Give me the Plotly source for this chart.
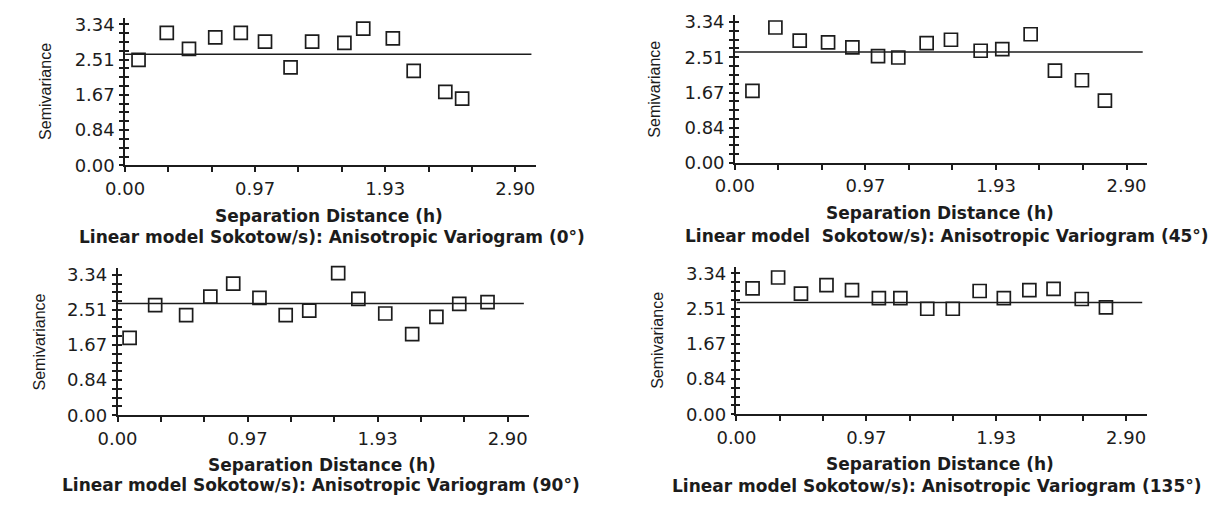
import plotly.graph_objects as go

# ---------------- data ----------------
x_0 = [0.10, 0.31, 0.475, 0.67, 0.86, 1.04, 1.23, 1.39, 1.63, 1.77, 1.99, 2.145, 2.38, 2.505]
y_0 = [2.50, 3.14, 2.76, 3.03, 3.14, 2.93, 2.32, 2.93, 2.90, 3.24, 3.01, 2.24, 1.74, 1.58]

x_45 = [0.13, 0.30, 0.48, 0.69, 0.87, 1.06, 1.21, 1.42, 1.60, 1.82, 1.98, 2.19, 2.37, 2.57, 2.74]
y_45 = [1.71, 3.21, 2.90, 2.86, 2.74, 2.53, 2.50, 2.84, 2.92, 2.66, 2.70, 3.05, 2.19, 1.96, 1.48]

x_90 = [0.09, 0.28, 0.51, 0.69, 0.86, 1.055, 1.25, 1.425, 1.64, 1.79, 1.99, 2.19, 2.37, 2.54, 2.75]
y_90 = [1.84, 2.62, 2.38, 2.82, 3.13, 2.79, 2.38, 2.49, 3.38, 2.77, 2.42, 1.93, 2.34, 2.65, 2.69]

x_135 = [0.12, 0.31, 0.48, 0.67, 0.86, 1.06, 1.22, 1.42, 1.61, 1.81, 1.99, 2.18, 2.36, 2.57, 2.75]
y_135 = [2.98, 3.24, 2.86, 3.06, 2.94, 2.75, 2.75, 2.50, 2.50, 2.92, 2.75, 2.94, 2.97, 2.73, 2.53]

model_x = [0.0, 3.02]
model_sill = [2.63, 2.63, 2.66, 2.65]

x_tick_labels = ["0.00", "", "", "0.97", "", "", "1.93", "", "", "2.90"]
x_tick_max = 2.90
y_tick_labels = ["0.00", "", "", "", "0.84", "", "", "", "1.67", "", "", "", "2.51", "", "", "", "3.34"]
y_tick_max = 3.34

subtitles = [
    "Linear model Sokotow/s): Anisotropic Variogram (0°)",
    "Linear model\u00a0 Sokotow/s): Anisotropic Variogram (45°)",
    "Linear model Sokotow/s): Anisotropic Variogram (90°)",
    "Linear model Sokotow/s): Anisotropic Variogram (135°)",
]
x_title = "Separation Distance (h)"
y_title = "Semivariance"

series = [(x_0, y_0), (x_45, y_45), (x_90, y_90), (x_135, y_135)]

# ---------------- layout geometry (page pixels) ----------------
W, H = 1217, 506
OFF = 8  # default body margin of the html page
XR = [0, 3.055]
YR = [0, 3.5]


def px(x):
    return (x - OFF) / W


def py(y):
    return 1 - (y - OFF) / H


# left px, axis baseline px, px per x unit, px per y unit
geom = [
    (106.7, 165.7, 136.8, 43.41),
    (726.7, 163.3, 137.3, 43.41),
    (99.0, 422.7, 136.8, 43.23),
    (728.3, 421.7, 136.6, 43.41),
]
sep_pos = [(314, 217.5), (935, 214.5), (307, 473.5), (935, 473)]
sub_pos = [(317, 239), (942, 238.5), (306, 494.5), (932, 495)]
sem_x = [25.7, 645, 20, 648]

ink = "#1c1c1c"
tick_font = dict(family="DejaVu Sans", size=18, color=ink)
title_font = dict(family="DejaVu Sans", size=17, color=ink, weight="bold")
xtickvals = [i * x_tick_max / 9 for i in range(10)]
ytickvals = [i * y_tick_max / 16 for i in range(17)]

fig = go.Figure()
layout = {}
annotations = []

for i, ((xs, ys), (L, B, kx, ky)) in enumerate(zip(series, geom)):
    n = "" if i == 0 else str(i + 1)
    xa, ya = "x" + n, "y" + n
    ov = "y" + str(i + 5)
    fig.add_trace(go.Scatter(
        x=model_x, y=[model_sill[i]] * 2, mode="lines",
        line=dict(color=ink, width=1.5), xaxis=xa, yaxis=ya,
        showlegend=False, hoverinfo="skip"))
    fig.add_trace(go.Scatter(
        x=xs, y=ys, mode="markers", cliponaxis=False,
        marker=dict(symbol="square-open", size=13, color=ink,
                    line=dict(width=1.7, color=ink)),
        xaxis=xa, yaxis=ya, showlegend=False))
    fig.add_trace(go.Scatter(x=[None], y=[None], xaxis=xa, yaxis=ov,
                             showlegend=False, hoverinfo="skip"))

    x0 = px(L)
    x1 = px(L + XR[1] * kx)
    y0 = py(B)
    y1 = py(B - YR[1] * ky)

    layout["xaxis" + n] = dict(
        domain=[x0, x1], range=XR, anchor=ya, showgrid=False, zeroline=False,
        showline=True, linecolor=ink, linewidth=1.5,
        ticks="outside", ticklen=5, tickwidth=1.5, tickcolor=ink,
        tickvals=xtickvals, ticktext=x_tick_labels, tickfont=tick_font,
        ticklabelstandoff=1)
    layout["yaxis" + n] = dict(
        domain=[y0, y1], range=YR, anchor=xa, showgrid=False, zeroline=False,
        showline=True, linecolor=ink, linewidth=1.5,
        ticks="outside", ticklen=4, tickwidth=1.5, tickcolor=ink,
        tickvals=ytickvals, ticktext=y_tick_labels, tickfont=tick_font,
        ticklabelstandoff=1)
    layout["yaxis" + str(i + 5)] = dict(
        overlaying=ya, anchor=xa, side="left", range=YR, showgrid=False,
        zeroline=False, showline=False, ticks="inside", ticklen=4,
        tickwidth=1.5, tickcolor=ink, tickvals=ytickvals,
        showticklabels=False)

    annotations.append(dict(
        text=x_title, xref="paper", yref="paper",
        x=px(sep_pos[i][0]), y=py(sep_pos[i][1]),
        xanchor="center", yanchor="middle", showarrow=False,
        font=title_font))
    annotations.append(dict(
        text=subtitles[i], xref="paper", yref="paper",
        x=px(sub_pos[i][0]), y=py(sub_pos[i][1]),
        xanchor="center", yanchor="middle", showarrow=False,
        font=title_font))
    annotations.append(dict(
        text=y_title, xref="paper", yref="paper",
        x=px(sem_x[i]), y=(y0 + y1) / 2, textangle=-90,
        xanchor="center", yanchor="middle", showarrow=False,
        font=dict(family="Liberation Sans", size=16, color=ink)))

fig.update_layout(
    width=W, height=H, margin=dict(l=0, r=0, t=0, b=0),
    paper_bgcolor="white", plot_bgcolor="white",
    annotations=annotations, **layout)

fig.write_html("out.html")
